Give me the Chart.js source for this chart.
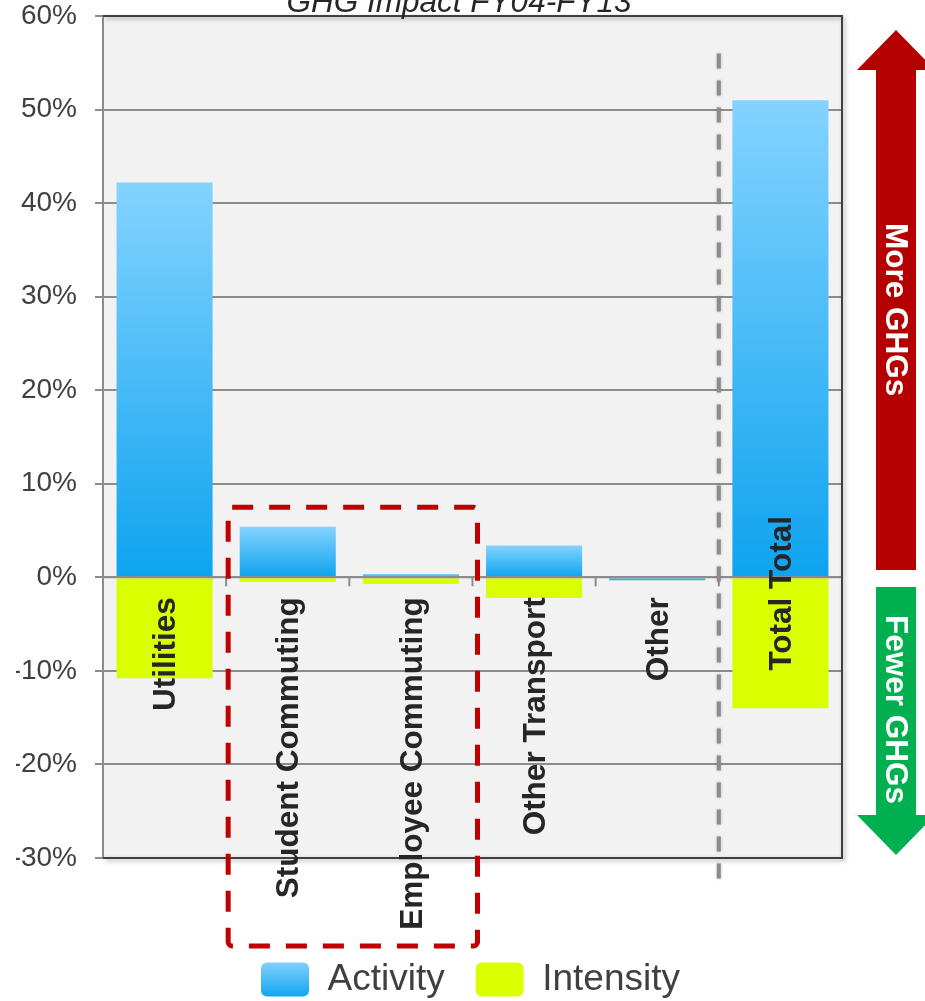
<!DOCTYPE html>
<html lang="en">
<head>
  <meta charset="UTF-8">
  <title>GHG Impact FY04-FY13</title>
  <script src="https://cdn.jsdelivr.net/npm/chart.js"></script>
  <style>
    body { margin: 0; background: #fff; }
    canvas { display: block; }
  </style>
</head>
<body>
<canvas id="ghg" width="925" height="1001"></canvas>

<script>
  // values in percent change FY04 -> FY13
  const categories = ['Utilities', 'Student Commuting', 'Employee Commuting', 'Other Transport', 'Other', 'Total Total'];
  const activity = [42.2, 5.4, 0.35, 3.4, -0.3, 51.0];
  const intensity = [-10.8, -0.5, -0.7, -2.2, 0, -14.0];
  const yTicks = [-30, -20, -10, 0, 10, 20, 30, 40, 50, 60];
  const seriesNames = ['Activity', 'Intensity'];
  const chartTitle = 'GHG Impact FY04-FY13';
  const arrowLabels = ['More GHGs', 'Fewer GHGs'];

  const FONT = '"Liberation Sans", Arial, sans-serif';

  function blueGradient(ctx, top, bottom) {
    const g = ctx.createLinearGradient(0, top, 0, bottom);
    g.addColorStop(0, '#84d3ff');
    g.addColorStop(1, '#0ea3ef');
    return g;
  }

  function drawArrow(ctx, x, from, to, color) {
    const dir = Math.sign(to - from);
    const base = to - dir * 40;
    ctx.fillStyle = color;
    ctx.beginPath();
    ctx.moveTo(x - 20, from);
    ctx.lineTo(x - 20, base);
    ctx.lineTo(x - 39, base);
    ctx.lineTo(x, to);
    ctx.lineTo(x + 39, base);
    ctx.lineTo(x + 20, base);
    ctx.lineTo(x + 20, from);
    ctx.closePath();
    ctx.fill();
  }

  const decor = {
    id: 'decor',
    beforeDraw(chart) {
      const { ctx, chartArea: a } = chart;
      ctx.save();
      ctx.fillStyle = '#f2f2f2';
      ctx.fillRect(a.left, a.top, a.right - a.left, a.bottom - a.top);
      ctx.restore();

      // gradient swatch for the Activity legend box
      const lg = chart.legend;
      if (lg && lg.legendHitBoxes && lg.legendHitBoxes[0] && lg.legendItems && lg.legendItems[0]) {
        const hb = lg.legendHitBoxes[0];
        lg.legendItems[0].fillStyle = blueGradient(ctx, hb.top, hb.top + hb.height);
      }
    },
    afterDatasetsDraw(chart) {
      const { ctx, chartArea: a, scales: { x, y } } = chart;
      const zeroY = y.getPixelForValue(0);
      const edge = i => (x.getPixelForValue(i) + x.getPixelForValue(i + 1)) / 2;
      ctx.save();

      // zero line and small category dividers
      ctx.strokeStyle = '#8c8c8c';
      ctx.lineWidth = 2;
      ctx.beginPath();
      ctx.moveTo(a.left, zeroY);
      ctx.lineTo(a.right, zeroY);
      for (let i = 0; i < categories.length - 1; i++) {
        const ex = edge(i);
        ctx.moveTo(ex, zeroY);
        ctx.lineTo(ex, zeroY + 9);
      }
      ctx.stroke();

      // plot frame
      ctx.beginPath();
      ctx.moveTo(a.left, a.top);
      ctx.lineTo(a.left, a.bottom);
      ctx.stroke();
      ctx.save();
      ctx.shadowColor = 'rgba(0,0,0,0.35)';
      ctx.shadowBlur = 4;
      ctx.shadowOffsetX = 2;
      ctx.shadowOffsetY = 2;
      ctx.strokeStyle = '#404040';
      ctx.beginPath();
      ctx.moveTo(a.left, a.top);
      ctx.lineTo(a.right, a.top);
      ctx.lineTo(a.right, a.bottom);
      ctx.lineTo(a.left, a.bottom);
      ctx.stroke();
      ctx.restore();

      // separator before the total
      const sx = edge(categories.length - 2);
      ctx.save();
      ctx.setLineDash([15, 12]);
      ctx.lineWidth = 4;
      ctx.strokeStyle = '#8c8c8c';
      ctx.shadowColor = 'rgba(0,0,0,0.25)';
      ctx.shadowBlur = 3;
      ctx.beginPath();
      ctx.moveTo(sx, y.getPixelForValue(56));
      ctx.lineTo(sx, a.bottom + 24);
      ctx.stroke();
      ctx.restore();

      // category names, written upward below the zero line
      ctx.fillStyle = '#262626';
      ctx.font = `bold 31.5px ${FONT}`;
      ctx.textBaseline = 'middle';
      categories.forEach((c, i) => {
        ctx.save();
        ctx.translate(x.getPixelForValue(i) + 2, zeroY);
        ctx.rotate(-Math.PI / 2);
        if (i === categories.length - 1) {
          ctx.textAlign = 'center';
          ctx.fillText(c, -16, 0);
        } else {
          ctx.textAlign = 'right';
          ctx.fillText(c, -20, 0);
        }
        ctx.restore();
      });

      // commuting group box
      ctx.save();
      ctx.setLineDash([21, 16]);
      ctx.lineWidth = 5;
      ctx.strokeStyle = '#c00000';
      const rl = edge(0) + 2, rr = edge(2) + 5;
      const rt = y.getPixelForValue(7.5), rb = a.bottom + 88;
      ctx.beginPath();
      ctx.roundRect(rl, rt, rr - rl, rb - rt, 4);
      ctx.stroke();
      ctx.restore();

      ctx.restore();
    },
    afterDraw(chart) {
      const { ctx, chartArea: a } = chart;
      ctx.save();

      ctx.fillStyle = '#262626';
      ctx.font = `italic 31.5px ${FONT}`;
      ctx.textAlign = 'center';
      ctx.textBaseline = 'alphabetic';
      ctx.fillText(chartTitle, a.left + 356, 12);

      const ax = a.right + 54;
      drawArrow(ctx, ax, 570, 30, '#b50000');
      drawArrow(ctx, ax, 587, 855, '#00b050');

      ctx.fillStyle = '#ffffff';
      ctx.font = `bold 31.5px ${FONT}`;
      ctx.textAlign = 'left';
      ctx.textBaseline = 'middle';
      [[arrowLabels[0], 223], [arrowLabels[1], 615]].forEach(([t, ty]) => {
        ctx.save();
        ctx.translate(ax - 1, ty);
        ctx.rotate(Math.PI / 2);
        ctx.fillText(t, 0, 0);
        ctx.restore();
      });

      ctx.restore();
    }
  };

  new Chart(document.getElementById('ghg'), {
    type: 'bar',
    data: {
      labels: categories,
      datasets: [
        {
          label: seriesNames[0],
          data: activity,
          backgroundColor: c => {
            const chart = c.chart;
            if (!chart.chartArea || c.raw === undefined) return '#3cb6f6';
            const ys = chart.scales.y;
            const top = ys.getPixelForValue(Math.max(c.raw, 0));
            const bottom = ys.getPixelForValue(Math.min(c.raw, 0));
            if (bottom - top < 1) return '#5cc0f8';
            return blueGradient(chart.ctx, top, bottom);
          },
          borderWidth: 0
        },
        {
          label: seriesNames[1],
          data: intensity,
          backgroundColor: '#d9ff00',
          borderWidth: 0
        }
      ]
    },
    options: {
      responsive: false,
      animation: false,
      categoryPercentage: 1,
      barPercentage: 0.78,
      layout: { padding: { left: 16, right: 0, top: 16, bottom: -7 } },
      plugins: {
        title: { display: false },
        tooltip: { enabled: false },
        legend: {
          position: 'bottom',
          labels: {
            font: { family: FONT, size: 37 },
            color: '#404040',
            boxWidth: 48,
            boxHeight: 34,
            padding: 31,
            useBorderRadius: true,
            borderRadius: 6
          }
        }
      },
      scales: {
        x: {
          stacked: true,
          afterFit: s => { s.height = 72; },
          ticks: { display: false },
          grid: { display: false },
          border: { display: false }
        },
        y: {
          stacked: true,
          min: yTicks[0],
          max: yTicks[yTicks.length - 1],
          afterFit: s => {
            s.width = 87;
            s.paddingTop = 0;
            s.paddingBottom = 0;
          },
          ticks: {
            stepSize: 10,
            padding: 18,
            color: '#404040',
            font: { family: FONT, size: 28, lineHeight: 1 },
            callback: v => v + '%'
          },
          grid: { color: '#8c8c8c', lineWidth: 2, tickLength: 8 },
          border: { display: false }
        },
        side: {
          type: 'linear',
          position: 'right',
          afterFit: s => {
            s.width = 83;
            s.paddingTop = 0;
            s.paddingBottom = 0;
          },
          ticks: { display: false },
          grid: { display: false },
          border: { display: false }
        }
      }
    },
    plugins: [decor]
  });
</script>
</body>
</html>
